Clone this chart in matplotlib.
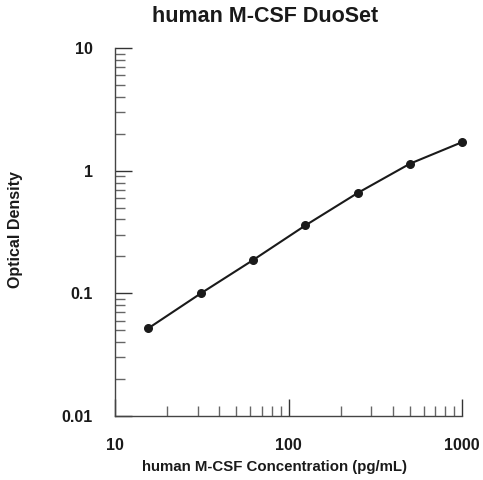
import numpy as np
import matplotlib.pyplot as plt
from matplotlib.ticker import LogLocator, FixedLocator, NullFormatter

plt.rcParams['font.family'] = ['Liberation Sans', 'DejaVu Sans']
plt.rcParams['font.weight'] = 'bold'

# standard curve, human M-CSF DuoSet
conc = [15.6, 31.25, 62.5, 125, 250, 500, 1000]
od = [0.052, 0.100, 0.187, 0.358, 0.658, 1.14, 1.71]
xticks = [10, 100, 1000]
xtick_labels = ['10', '100', '1000']
yticks = [0.01, 0.1, 1, 10]
ytick_labels = ['0.01', '0.1', '1', '10']

fig = plt.figure(figsize=(4.83, 4.80), dpi=100)
ax = fig.add_axes([0.238, 0.1333, 0.719, 0.7667])

ax.plot(conc, od, color='#1a1a1a', linewidth=1.5, clip_on=False)
ax.scatter(conc, od, s=30, color='#1a1a1a', zorder=3, clip_on=False)

ax.set_xscale('log')
ax.set_yscale('log')
ax.set_xlim(10, 1000)
ax.set_ylim(0.01, 10)

ax.xaxis.set_major_locator(FixedLocator(xticks))
ax.set_xticklabels(xtick_labels)
ax.yaxis.set_major_locator(FixedLocator(yticks))
ax.set_yticklabels(ytick_labels)
ax.xaxis.set_minor_locator(LogLocator(base=10, subs=np.arange(2, 10)))
ax.yaxis.set_minor_locator(LogLocator(base=10, subs=np.arange(2, 10)))
ax.xaxis.set_minor_formatter(NullFormatter())
ax.yaxis.set_minor_formatter(NullFormatter())

for s in ['top', 'right']:
    ax.spines[s].set_visible(False)
for s in ['left', 'bottom']:
    ax.spines[s].set_color('#444444')
    ax.spines[s].set_linewidth(1.0)

ax.tick_params(which='major', direction='in', length=12, width=1.0,
               color='#333333', labelsize=11.5, labelcolor='#1a1a1a', pad=16)
ax.tick_params(which='minor', direction='in', length=7, width=1.0,
               color='#666666')

fig.text(265 / 483, 1 - 17 / 480, 'human M-CSF DuoSet', fontsize=15.5,
         fontweight='bold', color='#1a1a1a', ha='center', va='center')
fig.text(274 / 483, 1 - 467 / 480, 'human M-CSF Concentration (pg/mL)',
         fontsize=10.8, fontweight='bold', color='#1a1a1a',
         ha='center', va='center')
fig.text(16 / 483, 1 - 230 / 480, 'Optical Density', fontsize=11.5,
         fontweight='bold', color='#1a1a1a', rotation=90,
         ha='center', va='center')

fig.savefig('out.png', dpi=100)
